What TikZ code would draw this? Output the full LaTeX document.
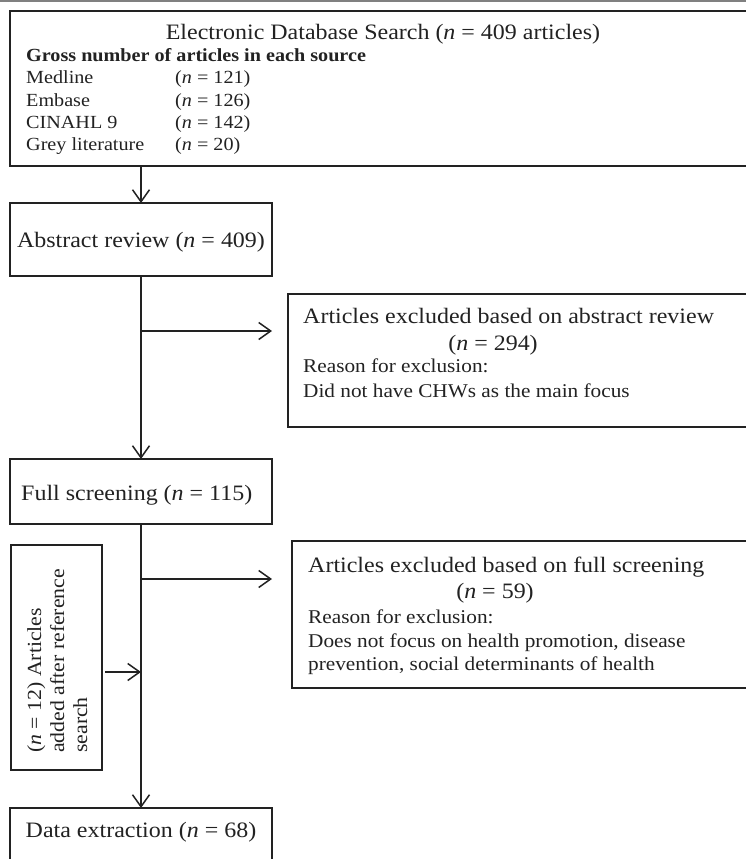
\documentclass[tikz,border=0pt]{standalone}
\usepackage{fontspec}
\setmainfont[FakeStretch=1.09]{Liberation Serif}
\usetikzlibrary{arrows.meta}
\definecolor{ink}{HTML}{222222}
\begin{document}
\begin{tikzpicture}[x=1pt,y=-1pt,
  box/.style={draw=ink, line width=1.5pt, inner sep=0pt, outer sep=0pt, anchor=north west},
  big/.style={inner sep=0pt, text=ink, font=\fontsize{22}{26}\selectfont},
  rot/.style={inner sep=0pt, text=ink, anchor=base west, rotate=90, font=\fontsize{20}{24}\selectfont},
  mid/.style={inner sep=0pt, text=ink, anchor=base west, font=\fontsize{19.5}{23}\selectfont},
  lst/.style={inner sep=0pt, text=ink, anchor=base west, font=\fontsize{18.5}{22}\selectfont},
  arr/.style={line width=1.5pt, draw=ink, -{Straight Barb[length=12pt,width=17pt,line width=1.5pt]}},
  ln/.style={line width=1.5pt, draw=ink}]
\useasboundingbox (0,0) rectangle (746,859);
\clip (0,0) rectangle (746,859);
\fill[white] (0,0) rectangle (746,859);
\draw[gray, line width=2pt] (0,1) -- (746,1);

% boxes
\node[box, minimum width=746pt, minimum height=155pt] (top) at (10,11) {};
\node[box, minimum width=262pt, minimum height=73pt] (abs) at (10,203) {};
\node[box, minimum width=468pt, minimum height=133pt] (ex1) at (288,294) {};
\node[box, minimum width=262pt, minimum height=65pt] (full) at (10,459) {};
\node[box, minimum width=464pt, minimum height=147pt] (ex2) at (292,541) {};
\node[box, minimum width=91pt, minimum height=225pt] (left) at (11,545) {};
\node[box, minimum width=262pt, minimum height=70pt] (data) at (10,808) {};

% top box text
\node[big, anchor=base] (tt) at (383,40) {Electronic Database Search (\textit{n} = 409 articles)};
\node[lst] (g) at (26,62) {\textbf{Gross number of articles in each source}};
\node[lst] (s1) at (26,83) {Medline};
\node[lst] (s2) at (26,106) {Embase};
\node[lst] (s3) at (26,128) {CINAHL 9};
\node[lst] (s4) at (26,150) {Grey literature};
\node[lst] (n1) at (175,83) {(\textit{n} = 121)};
\node[lst] (n2) at (175,106) {(\textit{n} = 126)};
\node[lst] (n3) at (175,128) {(\textit{n} = 142)};
\node[lst] (n4) at (175,150) {(\textit{n} = 20)};

% main boxes text
\node[big, anchor=base] (ta) at (141,247) {Abstract review (\textit{n} = 409)};
\node[big, anchor=base west] (tf) at (21,500) {Full screening (\textit{n} = 115)};
\node[big, anchor=base] (td) at (141,837) {Data extraction (\textit{n} = 68)};

% exclusion 1
\node[big, anchor=base west] (e1a) at (303,323) {Articles excluded based on abstract review};
\node[big, anchor=base] (e1b) at (493,350) {(\textit{n} = 294)};
\node[mid] (e1c) at (303,372) {Reason for exclusion:};
\node[mid] (e1d) at (303,397) {Did not have CHWs as the main focus};

% exclusion 2
\node[big, anchor=base west] (e2a) at (308,572) {Articles excluded based on full screening};
\node[big, anchor=base] (e2b) at (495,598) {(\textit{n} = 59)};
\node[mid] (e2c) at (308,623) {Reason for exclusion:};
\node[mid] (e2d) at (308,647) {Does not focus on health promotion, disease};
\node[mid] (e2e) at (308,670) {prevention, social determinants of health};

% rotated text
\node[rot] (r1) at (41,753) {(\textit{n} = 12) Articles};
\node[rot] (r2) at (64,753) {added after reference};
\node[rot] (r3) at (87,753) {search};

% connectors
\coordinate (b1) at (141,331);
\coordinate (b2) at (141,579);
\coordinate (j) at (141,672);
\draw[arr] (top.south -| abs.north) -- (abs.north);
\draw[arr] (abs.south) -- (full.north);
\draw[arr, shorten >=16pt] (b1) -- (b1 -| ex1.west);
\draw[arr] (full.south) -- (data.north);
\draw[arr, shorten >=20pt] (b2) -- (b2 -| ex2.west);
\draw[arr, shorten <=3pt] (left.east |- j) -- (j);
\end{tikzpicture}
\end{document}
